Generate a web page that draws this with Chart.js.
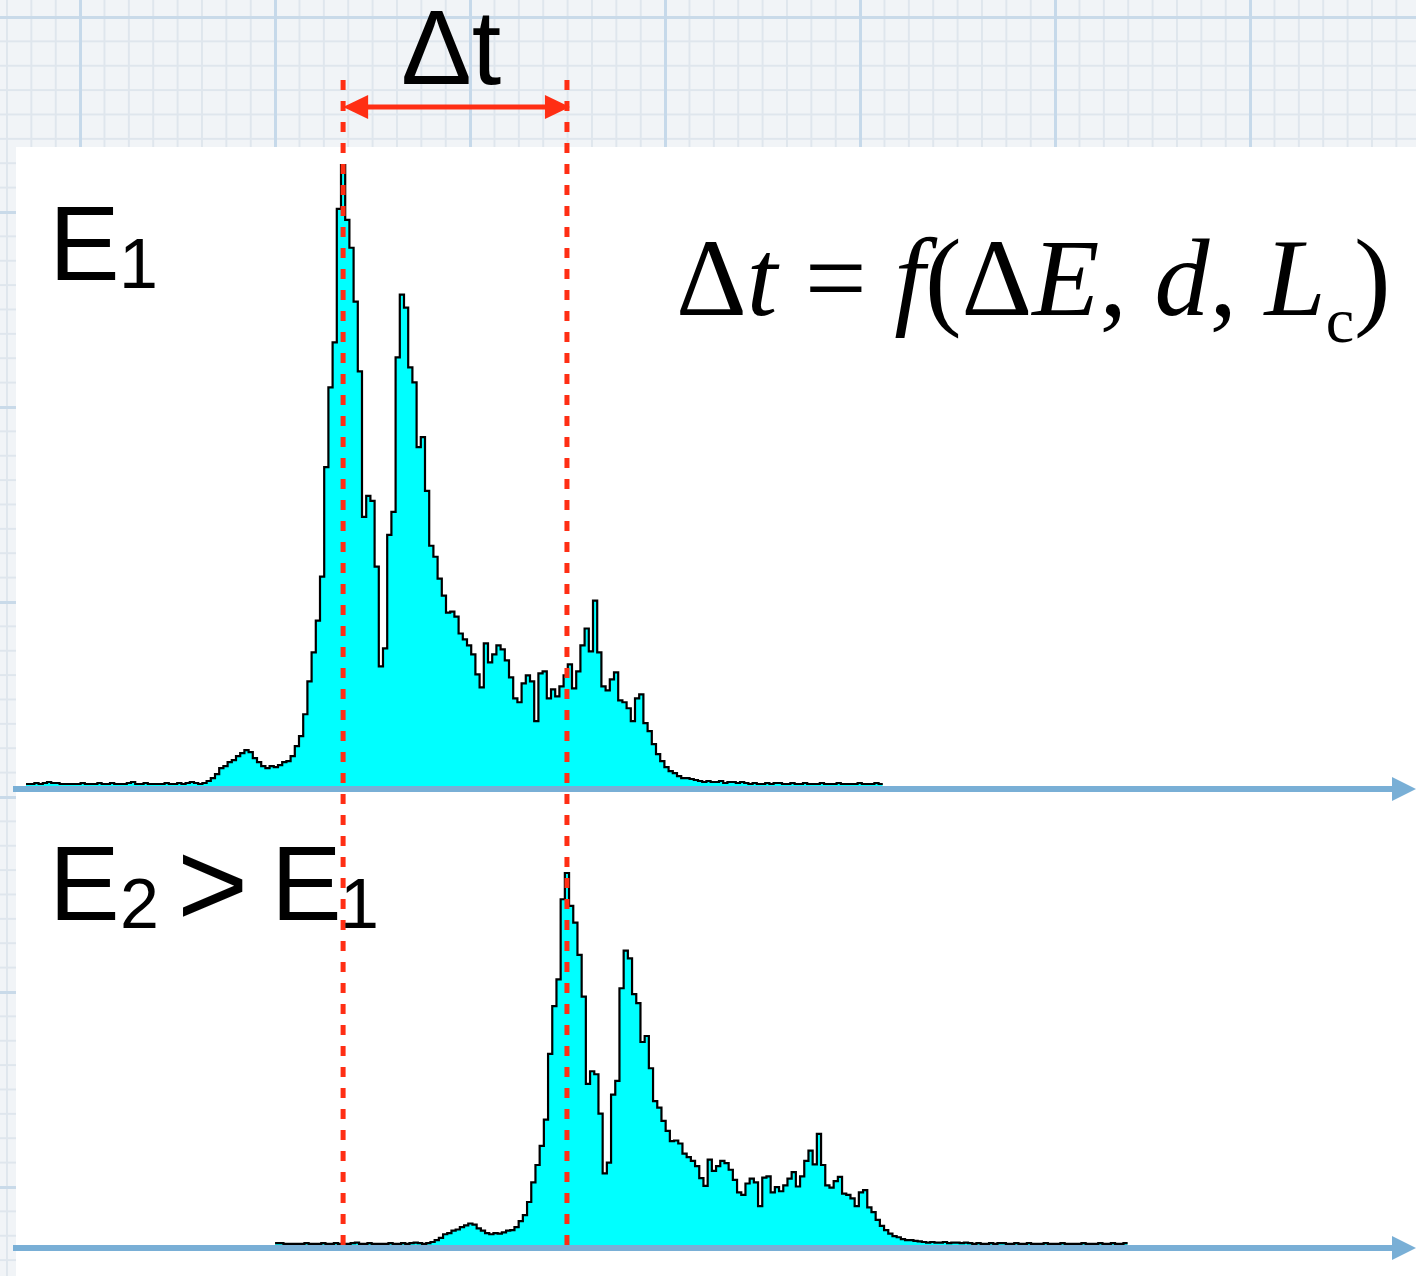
<!DOCTYPE html>
<html>
<head>
<meta charset="utf-8">
<script src="https://cdn.jsdelivr.net/npm/chart.js@4.4.1/dist/chart.umd.min.js"></script>
<style>
  html, body { margin:0; padding:0; width:1416px; height:1276px; overflow:hidden; }
  body {
    position:relative;
    background-color:#f1f4f7;
    background-image:
      linear-gradient(to right, #c6d9ea 0, #c6d9ea 3px, transparent 3px),
      linear-gradient(to bottom, #c9dae9 0, #c9dae9 3px, transparent 3px),
      linear-gradient(to right, #dfe6ed 0, #dfe6ed 2px, transparent 2px),
      linear-gradient(to bottom, #dfe6ed 0, #dfe6ed 2px, transparent 2px);
    background-size: 195px 100%, 100% 195px, 24.375px 100%, 100% 24.375px;
    background-position: 79px 0, 0 16px, 6px 0, 0 16px;
  }
  #paper { position:absolute; left:16px; top:147px; right:0; bottom:0; background:#ffffff; }
  #chart { position:absolute; left:0; top:0; }
  .sans { position:absolute; font-family:"Liberation Sans", Arial, Helvetica, sans-serif; color:#000; line-height:1; white-space:nowrap; }
  .serif { position:absolute; font-family:"Liberation Serif", "Times New Roman", serif; color:#000; line-height:1; white-space:nowrap; }
  .serif i { font-style:italic; }
</style>
</head>
<body>
<div id="paper"></div>
<canvas id="chart" width="1416" height="1276"></canvas>

<div class="sans" style="left:401px; top:-6px; font-size:106px;">Δt</div>

<div class="sans" style="left:49px; top:190px; font-size:106px;">E</div>
<div class="sans" style="left:119px; top:229px; font-size:70px;">1</div>

<div class="sans" style="left:49px; top:830px; font-size:106px;">E</div>
<div class="sans" style="left:120px; top:869px; font-size:70px;">2</div>
<div class="sans" style="left:177px; top:823px; font-size:122px;">&gt;</div>
<div class="sans" style="left:271px; top:830px; font-size:106px;">E</div>
<div class="sans" style="left:340px; top:869px; font-size:70px;">1</div>

<div class="serif" style="left:676px; top:223px; font-size:110px;">Δ<i>t</i> = <i>f</i>(Δ<i>E</i>, <i>d</i>, <i>L</i><span style="font-size:64px; position:relative; top:27px;">c</span>)</div>

<script>
// ---- Data (histogram counts per time channel) ----
const countsE1 = [
  2,2,3,2,3,4,3,3,2,2, 2,2,2,3,2,2,2,3,2,2, 3,2,2,2,3,4,2,2,3,2, 2,2,2,3,2,2,3,2,3,4, 3,2,3,
  5,8,12,18,20,24,26,30,33,36,34,28,24,20,18,20,19,21,24,25,30,40,50,72,105,134,166,210,
  320,400,445,579,623,568,540,486,416,270,291,286,220,120,138,252,275,430,493,480,420,405,340,350,296,241,230,208,191,174,
  175,170,153,147,141,132,112,99,143,124,132,141,137,126,109,88,84,103,111,105,65,113,115,88,97,90,100,111,122,98,
  115,141,158,135,186,134,100,96,107,114,86,84,78,65,88,92,63,55,42,32,25,19,15,13,10,8,8,7,6,
  5,4,5,4,4,5,3,4,4,3,4,
  3,2,3,2,2,3,2,3,3,2, 2,3,2,2,3,2,2,2,3,2, 2,2,3,2,2,2,2,3,2,2, 2,3,2
];
const countsE2 = [
  3,3,2,2, 2,2,2,3,2,2,2,3,2,2, 3,2,2,2,3,4,2,2,3,2, 2,2,2,3,2,2,3,2,3,4, 3,2,3,
  5,8,12,18,20,24,26,30,33,36,34,28,24,20,18,20,19,21,24,25,30,40,50,72,105,134,166,210,
  320,400,445,579,623,568,540,486,416,270,291,286,220,120,138,252,275,430,493,480,420,405,340,350,296,241,230,208,191,174,
  175,170,153,147,141,132,112,99,143,124,132,141,137,126,109,88,84,103,111,105,65,113,115,88,97,90,100,111,122,98,
  115,141,158,135,186,134,100,96,107,114,86,84,78,65,88,92,63,55,42,32,25,19,15,13,10,8,8,7,6,
  5,4,5,4,4,5,3,4,4,3,4,
  3,2,3,2,2,3,2,3,3,2, 2,3,2,2,3,2,2,2,3,2, 2,2,3,2,2,2,2,3,2,2, 2,3,2,
  2,3,2,2,3
];
const startE1 = 0;      // first channel of the E1 spectrum
const startE2 = 59.3;   // first channel of the E2 spectrum (arrives later)

// ---- Layout (pixels) ----
const W = 1416, H = 1276;
const originPx = 26, pxPerChannel = 4.2;
const top1Base = 786, top1Peak = 165;
const top2Base = 1245, top2Peak = 873;

function stepPoints(counts, start) {
  const pts = counts.map((c, i) => ({ x: start + i, y: c }));
  pts.push({ x: start + counts.length, y: counts[counts.length - 1] });
  return pts;
}
function peakChannel(counts, start) {
  let m = 0;
  counts.forEach((c, i) => { if (c > counts[m]) m = i; });
  return start + m + 0.5;
}

const max1 = Math.max(...countsE1), max2 = Math.max(...countsE2);
const ppu1 = (top1Base - top1Peak) / max1;
const ppu2 = (top2Base - top2Peak) / max2;

const overlay = {
  id: 'overlay',
  afterDatasetsDraw(chart) {
    const ctx = chart.ctx;
    const xs = chart.scales.x;
    const axisColor = '#79afd6';
    // blue time axes with arrowheads
    ['y1', 'y2'].forEach(id => {
      const y = chart.scales[id].getPixelForValue(0) + 3;
      ctx.save();
      ctx.strokeStyle = axisColor;
      ctx.lineWidth = 6;
      ctx.beginPath();
      ctx.moveTo(13, y);
      ctx.lineTo(W - 20, y);
      ctx.stroke();
      ctx.fillStyle = axisColor;
      ctx.beginPath();
      ctx.moveTo(W - 24, y - 12);
      ctx.lineTo(W, y);
      ctx.lineTo(W - 24, y + 12);
      ctx.closePath();
      ctx.fill();
      ctx.restore();
    });
    // red dashed markers at the peak of each spectrum
    const xa = xs.getPixelForValue(peakChannel(countsE1, startE1));
    const xb = xs.getPixelForValue(peakChannel(countsE2, startE2));
    const yBottom = chart.scales.y2.getPixelForValue(0);
    const red = '#ff2e14';
    ctx.save();
    ctx.strokeStyle = red;
    ctx.lineWidth = 5;
    ctx.setLineDash([10, 11]);
    [xa, xb].forEach(x => {
      ctx.beginPath();
      ctx.moveTo(x, 80);
      ctx.lineTo(x, yBottom);
      ctx.stroke();
    });
    ctx.restore();
    // double-headed Δt arrow
    const ya = 107;
    ctx.save();
    ctx.strokeStyle = red;
    ctx.fillStyle = red;
    ctx.lineWidth = 5;
    ctx.beginPath();
    ctx.moveTo(xa + 20, ya);
    ctx.lineTo(xb - 20, ya);
    ctx.stroke();
    ctx.beginPath();
    ctx.moveTo(xa, ya);
    ctx.lineTo(xa + 25, ya - 12);
    ctx.lineTo(xa + 25, ya + 12);
    ctx.closePath();
    ctx.fill();
    ctx.beginPath();
    ctx.moveTo(xb + 3, ya);
    ctx.lineTo(xb - 22, ya - 12);
    ctx.lineTo(xb - 22, ya + 12);
    ctx.closePath();
    ctx.fill();
    ctx.restore();
  }
};

const histStyle = {
  stepped: true,
  fill: 'origin',
  backgroundColor: '#00ffff',
  borderColor: '#000000',
  borderWidth: 2.2,
  pointRadius: 0,
  tension: 0
};

new Chart(document.getElementById('chart'), {
  type: 'line',
  data: {
    datasets: [
      Object.assign({ label: 'E1', data: stepPoints(countsE1, startE1), yAxisID: 'y1' }, histStyle),
      Object.assign({ label: 'E2 > E1', data: stepPoints(countsE2, startE2), yAxisID: 'y2' }, histStyle)
    ]
  },
  options: {
    responsive: false,
    animation: false,
    events: [],
    layout: { padding: 0 },
    plugins: { legend: { display: false }, tooltip: { enabled: false }, title: { display: false } },
    scales: {
      x: { type: 'linear', display: false, min: -originPx / pxPerChannel, max: (W - originPx) / pxPerChannel },
      y1: { type: 'linear', display: false, min: -(H - top1Base) / ppu1, max: top1Base / ppu1 },
      y2: { type: 'linear', display: false, min: -(H - top2Base) / ppu2, max: top2Base / ppu2 }
    }
  },
  plugins: [overlay]
});
</script>
</body>
</html>
